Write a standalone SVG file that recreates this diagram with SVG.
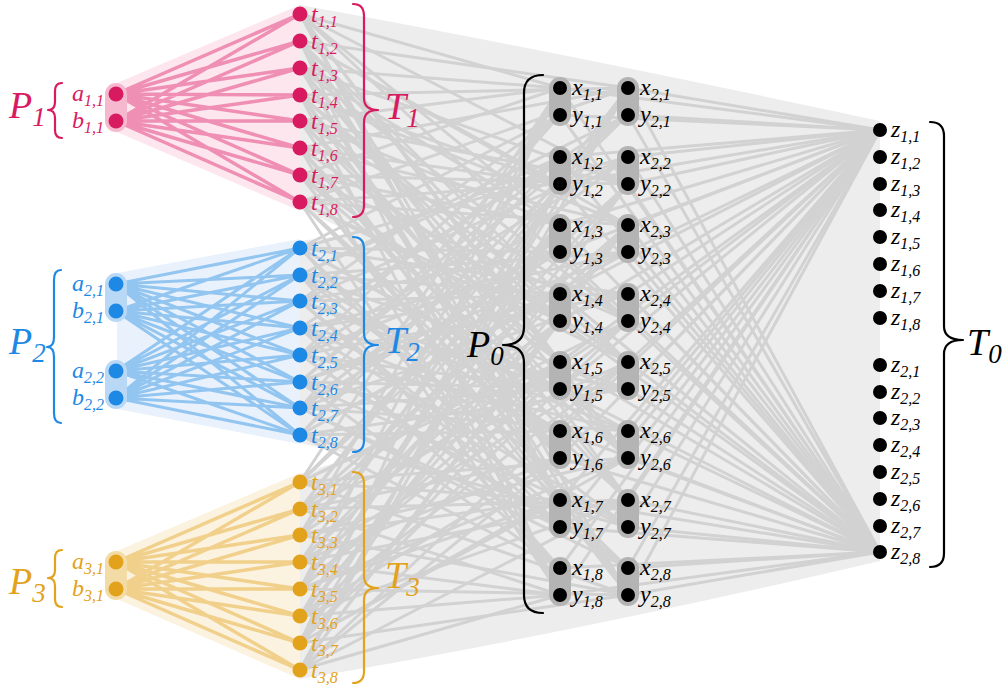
<svg xmlns="http://www.w3.org/2000/svg" width="1007" height="688" viewBox="0 0 1007 688">
  <style>
    text{font-family:"Liberation Serif","DejaVu Serif",serif;font-style:italic;font-size:24px;fill:#000}
    tspan{font-size:16px}
    .big{font-size:38px}
    .big tspan{font-size:27px}
    .pk circle{fill:#d81b60}.pk text{fill:#d81b60}
    .bl circle{fill:#1e88e5}.bl text{fill:#1e88e5}
    .or circle{fill:#e3a21b}.or text{fill:#e3a21b}
    .bk circle{fill:#000}
    .gl path{fill:none;stroke:#d2d2d2;stroke-width:3;stroke-linecap:round}
    .pl{fill:none;stroke:#ef8fb3;stroke-width:3.5;stroke-linecap:round}
    .bll{fill:none;stroke:#93c5f1;stroke-width:3;stroke-linecap:round}
    .ol{fill:none;stroke:#f1d08c;stroke-width:3.5;stroke-linecap:round}
    .brace{fill:none;stroke-width:2.2;stroke-linecap:round;stroke-linejoin:round}
    .gpill{fill:#b4b4b4}
  </style>

  <!-- shaded hulls -->
  <g id="hulls">
    <path d="M300 5Q560 52 880 121L880 561Q560 636 300 679L300 474L356 456L300 443L300 241L356 234L300 209Z" fill="#ededed"/>
    <path d="M117 83L300 5L300 211L117 132Z" fill="#fde6ee"/>
    <path d="M117 273L300 239L300 444L117 409Z" fill="#e9f2fc"/>
    <path d="M117 551L300 473L300 679L117 599Z" fill="#fbf2df"/>
  </g>

  <!-- connectors -->
  <g id="connectors">
    <g class="gl">
      <path d="M300 14L560 88M300 14L628 184M300 14L560 225M300 14L628 321M300 14L560 362M300 14L628 458M300 14L560 500M300 14L628 595"/>
      <path d="M300 41L628 88M300 41L560 184M300 41L628 225M300 41L560 321M300 41L628 362M300 41L560 458M300 41L628 500M300 41L560 595"/>
      <path d="M300 68L560 88M300 68L628 184M300 68L560 225M300 68L628 321M300 68L560 362M300 68L628 458M300 68L560 500M300 68L628 595"/>
      <path d="M300 95L628 88M300 95L560 184M300 95L628 225M300 95L560 321M300 95L628 362M300 95L560 458M300 95L628 500M300 95L560 595"/>
      <path d="M300 121L560 88M300 121L628 184M300 121L560 225M300 121L628 321M300 121L560 362M300 121L628 458M300 121L560 500M300 121L628 595"/>
      <path d="M300 148L628 88M300 148L560 184M300 148L628 225M300 148L560 321M300 148L628 362M300 148L560 458M300 148L628 500M300 148L560 595"/>
      <path d="M300 175L560 88M300 175L628 184M300 175L560 225M300 175L628 321M300 175L560 362M300 175L628 458M300 175L560 500M300 175L628 595"/>
      <path d="M300 202L628 88M300 202L560 184M300 202L628 225M300 202L560 321M300 202L628 362M300 202L560 458M300 202L628 500M300 202L560 595"/>

      <path d="M300 248L560 115M300 248L628 157M300 248L560 252M300 248L628 294M300 248L560 389M300 248L628 431M300 248L560 527M300 248L628 568"/>
      <path d="M300 275L628 115M300 275L560 157M300 275L628 252M300 275L560 294M300 275L628 389M300 275L560 431M300 275L628 527M300 275L560 568"/>
      <path d="M300 301L560 115M300 301L628 157M300 301L560 252M300 301L628 294M300 301L560 389M300 301L628 431M300 301L560 527M300 301L628 568"/>
      <path d="M300 328L628 115M300 328L560 157M300 328L628 252M300 328L560 294M300 328L628 389M300 328L560 431M300 328L628 527M300 328L560 568"/>
      <path d="M300 355L560 115M300 355L628 157M300 355L560 252M300 355L628 294M300 355L560 389M300 355L628 431M300 355L560 527M300 355L628 568"/>
      <path d="M300 382L628 115M300 382L560 157M300 382L628 252M300 382L560 294M300 382L628 389M300 382L560 431M300 382L628 527M300 382L560 568"/>
      <path d="M300 408L560 115M300 408L628 157M300 408L560 252M300 408L628 294M300 408L560 389M300 408L628 431M300 408L560 527M300 408L628 568"/>
      <path d="M300 435L628 115M300 435L560 157M300 435L628 252M300 435L560 294M300 435L628 389M300 435L560 431M300 435L628 527M300 435L560 568"/>

      <path d="M300 482L560 88M300 482L628 184M300 482L560 225M300 482L628 321M300 482L560 362M300 482L628 458M300 482L560 500M300 482L628 595"/>
      <path d="M300 509L628 88M300 509L560 184M300 509L628 225M300 509L560 321M300 509L628 362M300 509L560 458M300 509L628 500M300 509L560 595"/>
      <path d="M300 535L560 88M300 535L628 184M300 535L560 225M300 535L628 321M300 535L560 362M300 535L628 458M300 535L560 500M300 535L628 595"/>
      <path d="M300 562L628 88M300 562L560 184M300 562L628 225M300 562L560 321M300 562L628 362M300 562L560 458M300 562L628 500M300 562L560 595"/>
      <path d="M300 589L560 88M300 589L628 184M300 589L560 225M300 589L628 321M300 589L560 362M300 589L628 458M300 589L560 500M300 589L628 595"/>
      <path d="M300 616L628 88M300 616L560 184M300 616L628 225M300 616L560 321M300 616L628 362M300 616L560 458M300 616L628 500M300 616L560 595"/>
      <path d="M300 643L560 88M300 643L628 184M300 643L560 225M300 643L628 321M300 643L560 362M300 643L628 458M300 643L560 500M300 643L628 595"/>
      <path d="M300 670L628 88M300 670L560 184M300 670L628 225M300 670L560 321M300 670L628 362M300 670L560 458M300 670L628 500M300 670L560 595"/>

      <path d="M880 130L560 88M880 130L560 115M880 130L560 157M880 130L560 184M880 130L560 225M880 130L560 252M880 130L560 294M880 130L560 321M880 130L560 362M880 130L560 389M880 130L560 431M880 130L560 458M880 130L560 500M880 130L560 527M880 130L560 568M880 130L560 595"/>
      <path d="M880 130L628 88M880 130L628 115M880 130L628 157M880 130L628 184M880 130L628 225M880 130L628 252M880 130L628 294M880 130L628 321M880 130L628 362M880 130L628 389M880 130L628 431M880 130L628 458M880 130L628 500M880 130L628 527M880 130L628 568M880 130L628 595"/>
      <path d="M880 552L560 88M880 552L560 115M880 552L560 157M880 552L560 184M880 552L560 225M880 552L560 252M880 552L560 294M880 552L560 321M880 552L560 362M880 552L560 389M880 552L560 431M880 552L560 458M880 552L560 500M880 552L560 527M880 552L560 568M880 552L560 595"/>
      <path d="M880 552L628 88M880 552L628 115M880 552L628 157M880 552L628 184M880 552L628 225M880 552L628 252M880 552L628 294M880 552L628 321M880 552L628 362M880 552L628 389M880 552L628 431M880 552L628 458M880 552L628 500M880 552L628 527M880 552L628 568M880 552L628 595"/>
    </g>

    <path class="pl" d="M116 94L300 14M116 94L300 41M116 94L300 68M116 94L300 95M116 94L300 121M116 94L300 148M116 94L300 175M116 94L300 202M116 121L300 14M116 121L300 41M116 121L300 68M116 121L300 95M116 121L300 121M116 121L300 148M116 121L300 175M116 121L300 202"/>
    <path class="bll" d="M116 284L300 248M116 284L300 275M116 284L300 301M116 284L300 328M116 284L300 355M116 284L300 382M116 284L300 408M116 284L300 435M116 311L300 248M116 311L300 275M116 311L300 301M116 311L300 328M116 311L300 355M116 311L300 382M116 311L300 408M116 311L300 435M116 371L300 248M116 371L300 275M116 371L300 301M116 371L300 328M116 371L300 355M116 371L300 382M116 371L300 408M116 371L300 435M116 398L300 248M116 398L300 275M116 398L300 301M116 398L300 328M116 398L300 355M116 398L300 382M116 398L300 408M116 398L300 435"/>
    <path class="ol" d="M116 562L300 482M116 562L300 509M116 562L300 535M116 562L300 562M116 562L300 589M116 562L300 616M116 562L300 643M116 562L300 670M116 589L300 482M116 589L300 509M116 589L300 535M116 589L300 562M116 589L300 589M116 589L300 616M116 589L300 643M116 589L300 670"/>
  </g>

  <!-- group 1 (pink) -->
  <g class="pk">
    <rect x="105" y="83" width="22" height="49" rx="11" fill="#f5b8ce"/>
    <g id="a11"><circle cx="116" cy="94" r="7.5"/><text x="104" y="101" text-anchor="end">a<tspan dy="5">1,1</tspan></text></g>
    <g id="b11"><circle cx="116" cy="121" r="7.5"/><text x="104" y="128" text-anchor="end">b<tspan dy="5">1,1</tspan></text></g>
    <g id="t11"><circle cx="300" cy="14" r="7.5"/><text x="311" y="22">t<tspan dy="5">1,1</tspan></text></g>
    <g id="t12"><circle cx="300" cy="41" r="7.5"/><text x="311" y="49">t<tspan dy="5">1,2</tspan></text></g>
    <g id="t13"><circle cx="300" cy="68" r="7.5"/><text x="311" y="76">t<tspan dy="5">1,3</tspan></text></g>
    <g id="t14"><circle cx="300" cy="95" r="7.5"/><text x="311" y="103">t<tspan dy="5">1,4</tspan></text></g>
    <g id="t15"><circle cx="300" cy="121" r="7.5"/><text x="311" y="129">t<tspan dy="5">1,5</tspan></text></g>
    <g id="t16"><circle cx="300" cy="148" r="7.5"/><text x="311" y="156">t<tspan dy="5">1,6</tspan></text></g>
    <g id="t17"><circle cx="300" cy="175" r="7.5"/><text x="311" y="183">t<tspan dy="5">1,7</tspan></text></g>
    <g id="t18"><circle cx="300" cy="202" r="7.5"/><text x="311" y="210">t<tspan dy="5">1,8</tspan></text></g>
    <g id="P1"><path class="brace" stroke="#d81b60" d="M62 83Q55 83 55 91L55 102Q55 110 48 110Q55 110 55 118L55 130Q55 138 62 138"/><text class="big" x="9" y="118">P<tspan dy="8">1</tspan></text></g>
    <g id="T1"><path class="brace" stroke="#d81b60" d="M353 4Q364 4 364 16L364 98Q364 110 378 110Q364 110 364 122L364 205Q364 217 353 217"/><text class="big" x="385" y="119">T<tspan dy="8">1</tspan></text></g>
  </g>

  <!-- group 2 (blue) -->
  <g class="bl">
    <rect x="105" y="273" width="22" height="49" rx="11" fill="#b9d8f5"/>
    <rect x="105" y="360" width="22" height="49" rx="11" fill="#b9d8f5"/>
    <g id="a21"><circle cx="116" cy="284" r="7.5"/><text x="104" y="291" text-anchor="end">a<tspan dy="5">2,1</tspan></text></g>
    <g id="b21"><circle cx="116" cy="311" r="7.5"/><text x="104" y="318" text-anchor="end">b<tspan dy="5">2,1</tspan></text></g>
    <g id="a22"><circle cx="116" cy="371" r="7.5"/><text x="104" y="378" text-anchor="end">a<tspan dy="5">2,2</tspan></text></g>
    <g id="b22"><circle cx="116" cy="398" r="7.5"/><text x="104" y="405" text-anchor="end">b<tspan dy="5">2,2</tspan></text></g>
    <g id="t21"><circle cx="300" cy="248" r="7.5"/><text x="311" y="256">t<tspan dy="5">2,1</tspan></text></g>
    <g id="t22"><circle cx="300" cy="275" r="7.5"/><text x="311" y="283">t<tspan dy="5">2,2</tspan></text></g>
    <g id="t23"><circle cx="300" cy="301" r="7.5"/><text x="311" y="309">t<tspan dy="5">2,3</tspan></text></g>
    <g id="t24"><circle cx="300" cy="328" r="7.5"/><text x="311" y="336">t<tspan dy="5">2,4</tspan></text></g>
    <g id="t25"><circle cx="300" cy="355" r="7.5"/><text x="311" y="363">t<tspan dy="5">2,5</tspan></text></g>
    <g id="t26"><circle cx="300" cy="382" r="7.5"/><text x="311" y="390">t<tspan dy="5">2,6</tspan></text></g>
    <g id="t27"><circle cx="300" cy="408" r="7.5"/><text x="311" y="416">t<tspan dy="5">2,7</tspan></text></g>
    <g id="t28"><circle cx="300" cy="435" r="7.5"/><text x="311" y="443">t<tspan dy="5">2,8</tspan></text></g>
    <g id="P2"><path class="brace" stroke="#1e88e5" d="M61 270Q54 270 54 280L54 337Q54 347 47 347Q54 347 54 357L54 413Q54 423 61 423"/><text class="big" x="9" y="354">P<tspan dy="8">2</tspan></text></g>
    <g id="T2"><path class="brace" stroke="#1e88e5" d="M353 237Q364 237 364 249L364 333Q364 345 378 345Q364 345 364 357L364 440Q364 452 353 452"/><text class="big" x="385" y="353">T<tspan dy="8">2</tspan></text></g>
  </g>

  <!-- group 3 (amber) -->
  <g class="or">
    <rect x="105" y="551" width="22" height="49" rx="11" fill="#f3dba6"/>
    <g id="a31"><circle cx="116" cy="562" r="7.5"/><text x="104" y="569" text-anchor="end">a<tspan dy="5">3,1</tspan></text></g>
    <g id="b31"><circle cx="116" cy="589" r="7.5"/><text x="104" y="596" text-anchor="end">b<tspan dy="5">3,1</tspan></text></g>
    <g id="t31"><circle cx="300" cy="482" r="7.5"/><text x="311" y="490">t<tspan dy="5">3,1</tspan></text></g>
    <g id="t32"><circle cx="300" cy="509" r="7.5"/><text x="311" y="517">t<tspan dy="5">3,2</tspan></text></g>
    <g id="t33"><circle cx="300" cy="535" r="7.5"/><text x="311" y="543">t<tspan dy="5">3,3</tspan></text></g>
    <g id="t34"><circle cx="300" cy="562" r="7.5"/><text x="311" y="570">t<tspan dy="5">3,4</tspan></text></g>
    <g id="t35"><circle cx="300" cy="589" r="7.5"/><text x="311" y="597">t<tspan dy="5">3,5</tspan></text></g>
    <g id="t36"><circle cx="300" cy="616" r="7.5"/><text x="311" y="624">t<tspan dy="5">3,6</tspan></text></g>
    <g id="t37"><circle cx="300" cy="643" r="7.5"/><text x="311" y="651">t<tspan dy="5">3,7</tspan></text></g>
    <g id="t38"><circle cx="300" cy="670" r="7.5"/><text x="311" y="678">t<tspan dy="5">3,8</tspan></text></g>
    <g id="P3"><path class="brace" stroke="#e3a21b" d="M62 550Q55 550 55 558L55 570Q55 578 48 578Q55 578 55 586L55 599Q55 607 62 607"/><text class="big" x="9" y="594">P<tspan dy="8">3</tspan></text></g>
    <g id="T3"><path class="brace" stroke="#e3a21b" d="M353 472Q364 472 364 484L364 576Q364 588 378 588Q364 588 364 600L364 671Q364 683 353 683"/><text class="big" x="385" y="588">T<tspan dy="8">3</tspan></text></g>
  </g>

  <!-- inner protocol P0: pairs (x,y) -->
  <g class="bk">
    <g class="gpill">
      <rect x="549" y="77" width="22" height="49" rx="11"/><rect x="617" y="77" width="22" height="49" rx="11"/>
      <rect x="549" y="146" width="22" height="49" rx="11"/><rect x="617" y="146" width="22" height="49" rx="11"/>
      <rect x="549" y="214" width="22" height="49" rx="11"/><rect x="617" y="214" width="22" height="49" rx="11"/>
      <rect x="549" y="283" width="22" height="49" rx="11"/><rect x="617" y="283" width="22" height="49" rx="11"/>
      <rect x="549" y="351" width="22" height="49" rx="11"/><rect x="617" y="351" width="22" height="49" rx="11"/>
      <rect x="549" y="420" width="22" height="49" rx="11"/><rect x="617" y="420" width="22" height="49" rx="11"/>
      <rect x="549" y="489" width="22" height="49" rx="11"/><rect x="617" y="489" width="22" height="49" rx="11"/>
      <rect x="549" y="557" width="22" height="49" rx="11"/><rect x="617" y="557" width="22" height="49" rx="11"/>
    </g>
    <g id="x11"><circle cx="560" cy="88" r="7"/><text x="572" y="95">x<tspan dy="5">1,1</tspan></text></g>
    <g id="y11"><circle cx="560" cy="115" r="7"/><text x="572" y="122">y<tspan dy="5">1,1</tspan></text></g>
    <g id="x12"><circle cx="560" cy="157" r="7"/><text x="572" y="164">x<tspan dy="5">1,2</tspan></text></g>
    <g id="y12"><circle cx="560" cy="184" r="7"/><text x="572" y="191">y<tspan dy="5">1,2</tspan></text></g>
    <g id="x13"><circle cx="560" cy="225" r="7"/><text x="572" y="232">x<tspan dy="5">1,3</tspan></text></g>
    <g id="y13"><circle cx="560" cy="252" r="7"/><text x="572" y="259">y<tspan dy="5">1,3</tspan></text></g>
    <g id="x14"><circle cx="560" cy="294" r="7"/><text x="572" y="301">x<tspan dy="5">1,4</tspan></text></g>
    <g id="y14"><circle cx="560" cy="321" r="7"/><text x="572" y="328">y<tspan dy="5">1,4</tspan></text></g>
    <g id="x15"><circle cx="560" cy="362" r="7"/><text x="572" y="369">x<tspan dy="5">1,5</tspan></text></g>
    <g id="y15"><circle cx="560" cy="389" r="7"/><text x="572" y="396">y<tspan dy="5">1,5</tspan></text></g>
    <g id="x16"><circle cx="560" cy="431" r="7"/><text x="572" y="438">x<tspan dy="5">1,6</tspan></text></g>
    <g id="y16"><circle cx="560" cy="458" r="7"/><text x="572" y="465">y<tspan dy="5">1,6</tspan></text></g>
    <g id="x17"><circle cx="560" cy="500" r="7"/><text x="572" y="507">x<tspan dy="5">1,7</tspan></text></g>
    <g id="y17"><circle cx="560" cy="527" r="7"/><text x="572" y="534">y<tspan dy="5">1,7</tspan></text></g>
    <g id="x18"><circle cx="560" cy="568" r="7"/><text x="572" y="575">x<tspan dy="5">1,8</tspan></text></g>
    <g id="y18"><circle cx="560" cy="595" r="7"/><text x="572" y="602">y<tspan dy="5">1,8</tspan></text></g>
    <g id="x21"><circle cx="628" cy="88" r="7"/><text x="640" y="95">x<tspan dy="5">2,1</tspan></text></g>
    <g id="y21"><circle cx="628" cy="115" r="7"/><text x="640" y="122">y<tspan dy="5">2,1</tspan></text></g>
    <g id="x22"><circle cx="628" cy="157" r="7"/><text x="640" y="164">x<tspan dy="5">2,2</tspan></text></g>
    <g id="y22"><circle cx="628" cy="184" r="7"/><text x="640" y="191">y<tspan dy="5">2,2</tspan></text></g>
    <g id="x23"><circle cx="628" cy="225" r="7"/><text x="640" y="232">x<tspan dy="5">2,3</tspan></text></g>
    <g id="y23"><circle cx="628" cy="252" r="7"/><text x="640" y="259">y<tspan dy="5">2,3</tspan></text></g>
    <g id="x24"><circle cx="628" cy="294" r="7"/><text x="640" y="301">x<tspan dy="5">2,4</tspan></text></g>
    <g id="y24"><circle cx="628" cy="321" r="7"/><text x="640" y="328">y<tspan dy="5">2,4</tspan></text></g>
    <g id="x25"><circle cx="628" cy="362" r="7"/><text x="640" y="369">x<tspan dy="5">2,5</tspan></text></g>
    <g id="y25"><circle cx="628" cy="389" r="7"/><text x="640" y="396">y<tspan dy="5">2,5</tspan></text></g>
    <g id="x26"><circle cx="628" cy="431" r="7"/><text x="640" y="438">x<tspan dy="5">2,6</tspan></text></g>
    <g id="y26"><circle cx="628" cy="458" r="7"/><text x="640" y="465">y<tspan dy="5">2,6</tspan></text></g>
    <g id="x27"><circle cx="628" cy="500" r="7"/><text x="640" y="507">x<tspan dy="5">2,7</tspan></text></g>
    <g id="y27"><circle cx="628" cy="527" r="7"/><text x="640" y="534">y<tspan dy="5">2,7</tspan></text></g>
    <g id="x28"><circle cx="628" cy="568" r="7"/><text x="640" y="575">x<tspan dy="5">2,8</tspan></text></g>
    <g id="y28"><circle cx="628" cy="595" r="7"/><text x="640" y="602">y<tspan dy="5">2,8</tspan></text></g>
    <g id="P0"><path class="brace" stroke="#000" d="M543 75Q524 75 524 93L524 327Q524 345 503 345Q524 345 524 363L524 595Q524 613 543 613"/><text class="big" x="467" y="357">P<tspan dy="8">0</tspan></text></g>
  </g>

  <!-- output set T0 -->
  <g class="bk">
    <g id="z11"><circle cx="880" cy="130" r="7"/><text x="891" y="137">z<tspan dy="5">1,1</tspan></text></g>
    <g id="z12"><circle cx="880" cy="157" r="7"/><text x="891" y="164">z<tspan dy="5">1,2</tspan></text></g>
    <g id="z13"><circle cx="880" cy="184" r="7"/><text x="891" y="191">z<tspan dy="5">1,3</tspan></text></g>
    <g id="z14"><circle cx="880" cy="210" r="7"/><text x="891" y="217">z<tspan dy="5">1,4</tspan></text></g>
    <g id="z15"><circle cx="880" cy="237" r="7"/><text x="891" y="244">z<tspan dy="5">1,5</tspan></text></g>
    <g id="z16"><circle cx="880" cy="264" r="7"/><text x="891" y="271">z<tspan dy="5">1,6</tspan></text></g>
    <g id="z17"><circle cx="880" cy="291" r="7"/><text x="891" y="298">z<tspan dy="5">1,7</tspan></text></g>
    <g id="z18"><circle cx="880" cy="318" r="7"/><text x="891" y="325">z<tspan dy="5">1,8</tspan></text></g>
    <g id="z21"><circle cx="880" cy="365" r="7"/><text x="891" y="372">z<tspan dy="5">2,1</tspan></text></g>
    <g id="z22"><circle cx="880" cy="392" r="7"/><text x="891" y="399">z<tspan dy="5">2,2</tspan></text></g>
    <g id="z23"><circle cx="880" cy="418" r="7"/><text x="891" y="425">z<tspan dy="5">2,3</tspan></text></g>
    <g id="z24"><circle cx="880" cy="445" r="7"/><text x="891" y="452">z<tspan dy="5">2,4</tspan></text></g>
    <g id="z25"><circle cx="880" cy="472" r="7"/><text x="891" y="479">z<tspan dy="5">2,5</tspan></text></g>
    <g id="z26"><circle cx="880" cy="499" r="7"/><text x="891" y="506">z<tspan dy="5">2,6</tspan></text></g>
    <g id="z27"><circle cx="880" cy="526" r="7"/><text x="891" y="533">z<tspan dy="5">2,7</tspan></text></g>
    <g id="z28"><circle cx="880" cy="552" r="7"/><text x="891" y="559">z<tspan dy="5">2,8</tspan></text></g>
    <g id="T0"><path class="brace" stroke="#000" d="M930 122Q944 122 944 136L944 326Q944 340 963 340Q944 340 944 354L944 553Q944 567 930 567"/><text class="big" x="967" y="355">T<tspan dy="8">0</tspan></text></g>
  </g>
</svg>
